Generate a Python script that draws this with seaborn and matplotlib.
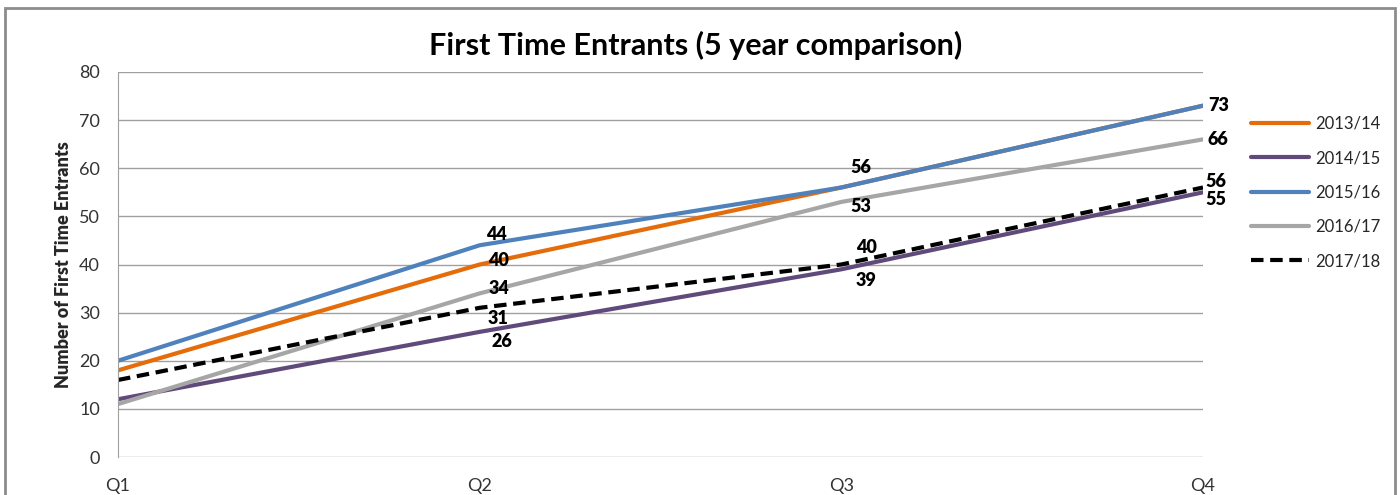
import pandas as pd
import numpy as np
import matplotlib
matplotlib.use("Agg")
import matplotlib.pyplot as plt
from matplotlib.patches import Rectangle
import seaborn as sns

quarters = ["Q1", "Q2", "Q3", "Q4"]
seasons = ["2013/14", "2014/15", "2015/16", "2016/17", "2017/18"]
v_2013 = [18, 40, 56, 73]
v_2014 = [12, 26, 39, 55]
v_2015 = [20, 44, 56, 73]
v_2016 = [11, 34, 53, 66]
v_2017 = [16, 31, 40, 56]

# which quarter points carry a value label
labelled = {
    "2013/14": [1, 2],
    "2014/15": [1, 2, 3],
    "2015/16": [1, 3],
    "2016/17": [1, 2, 3],
    "2017/18": [1, 2, 3],
}

colors = {
    "2013/14": "#E46C0A",
    "2014/15": "#604A7B",
    "2015/16": "#4F81BD",
    "2016/17": "#A6A6A6",
    "2017/18": "#000000",
}

rows = []
for s, vals in zip(seasons, [v_2013, v_2014, v_2015, v_2016, v_2017]):
    for i, q in enumerate(quarters):
        rows.append({"Season": s, "Quarter": q, "qi": i, "Value": vals[i]})
df = pd.DataFrame(rows)

sns.set_style("white")
plt.rcParams["font.family"] = ["Lato", "DejaVu Sans"]

fig = plt.figure(figsize=(14, 4.95), dpi=100)
ax = fig.add_axes([118 / 1400, 1 - 457 / 495, (1203 - 118) / 1400, (457 - 72) / 495])

sns.lineplot(
    data=df, x="qi", y="Value", hue="Season", style="Season",
    palette=colors, dashes={"2013/14": "", "2014/15": "", "2015/16": "",
                            "2016/17": "", "2017/18": (3, 1.6)},
    linewidth=3, ax=ax, legend=True,
)

# label offsets in pixels (dx, dy up)
offsets = {
    ("2013/14", 1): (19, 4), ("2013/14", 2): (19, 20),
    ("2014/15", 1): (22, -10), ("2014/15", 2): (25, -11), ("2014/15", 3): (10, -7),
    ("2015/16", 1): (17, 11), ("2015/16", 3): (13, 0),
    ("2016/17", 1): (19, 5), ("2016/17", 2): (19, -5), ("2016/17", 3): (12, 0),
    ("2017/18", 1): (18, -11), ("2017/18", 2): (25, 17), ("2017/18", 3): (10, 6),
}
for s in seasons:
    sub = df[df["Season"] == s]
    for i in labelled[s]:
        val = sub[sub["qi"] == i]["Value"].iloc[0]
        dx, dy = offsets[(s, i)]
        ha = "left" if i == 3 else "center"
        ax.annotate(str(val), (i, val), xytext=(dx - (8 if i == 3 else 0), dy),
                    textcoords="offset pixels", ha=ha, va="center",
                    fontsize=13, fontweight="heavy", color="black")

ax.set_xlim(0, 3)
ax.set_ylim(0, 80)
ax.set_xticks(range(4))
ax.set_xticklabels(quarters)
ax.set_yticks(range(0, 81, 10))
ax.yaxis.grid(True, color="#A0A0A0", linewidth=1)
ax.xaxis.grid(False)
for side in ["top", "right", "bottom"]:
    ax.spines[side].set_visible(False)
ax.spines["left"].set_color("#A0A0A0")
ax.tick_params(axis="both", length=0, labelsize=13, colors="#333333")
ax.tick_params(axis="x", pad=15)
ax.tick_params(axis="y", pad=13)
ax.set_xlabel("")
ax.set_ylabel("Number of First Time Entrants", fontsize=13, fontweight="heavy", labelpad=5)
fig.text(0.497, 1 - 45 / 495, "First Time Entrants (5 year comparison)", fontsize=22,
         fontweight="bold", color="black", ha="center", va="center")

leg = ax.legend(loc="upper left", bbox_to_anchor=(1.03, 0.925), frameon=False,
                fontsize=12, handlelength=3.5, labelspacing=1.1, handletextpad=0.4)
for line in leg.get_lines():
    line.set_linewidth(3)

fig.patches.append(Rectangle((5 / 1400, -0.1), 1390 / 1400, 1.1 - 8 / 495,
                             transform=fig.transFigure, fill=False,
                             edgecolor="#8C8C8C", linewidth=2))

fig.savefig("out.png", dpi=100)
